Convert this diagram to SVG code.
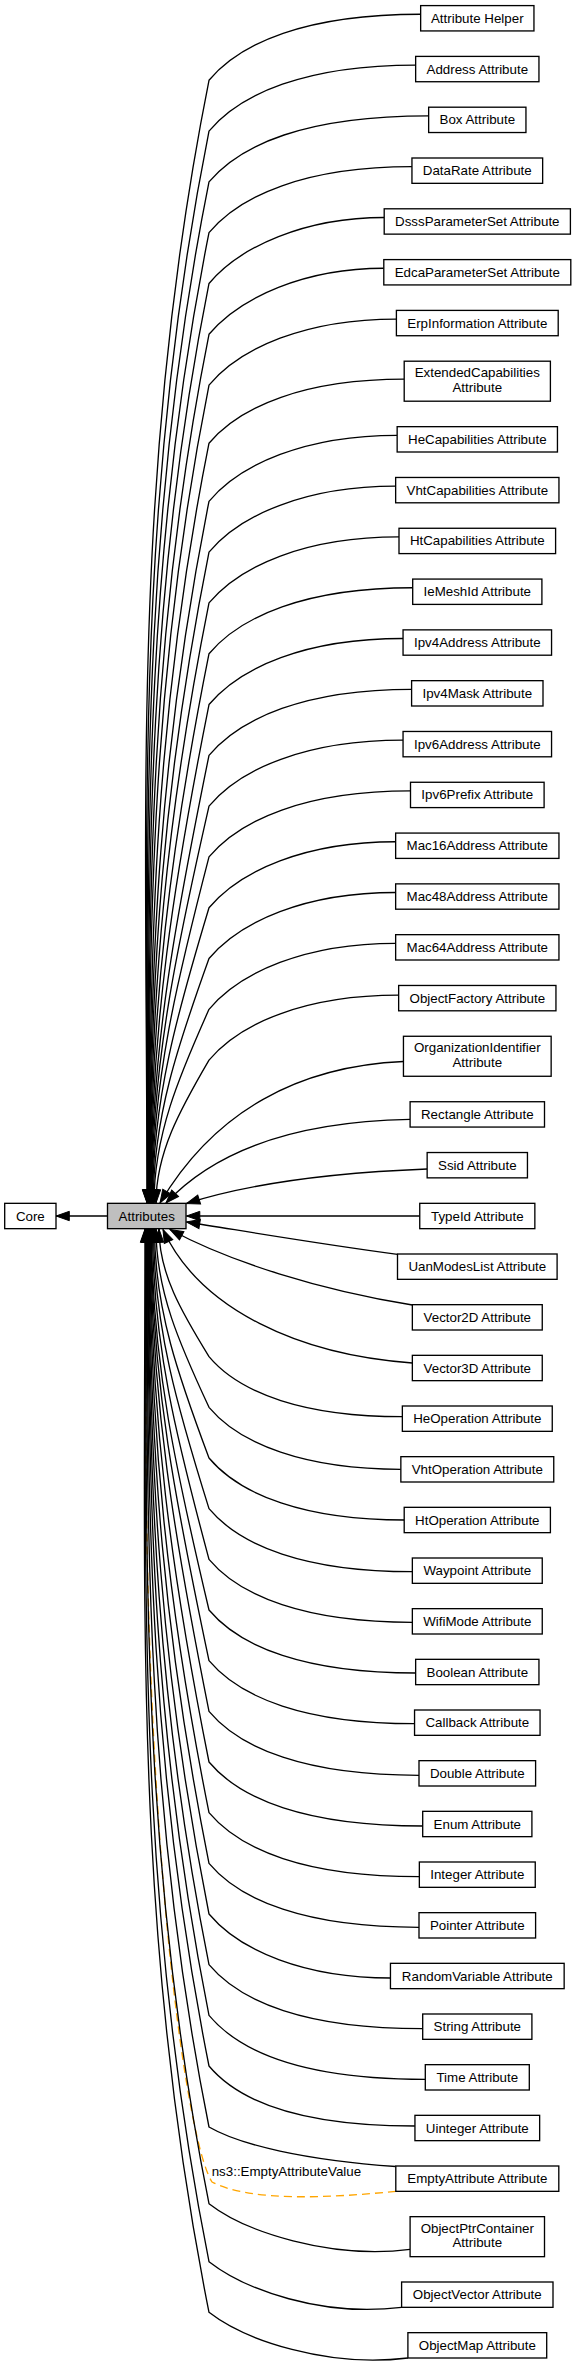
<svg xmlns="http://www.w3.org/2000/svg" width="576" height="2369" viewBox="0 0 576 2369">
<style>
.n rect{fill:#fff;stroke:#000;stroke-width:1.33}
.cur rect{fill:#bfbfbf}
text{font-family:"Liberation Sans",Arial,Helvetica,sans-serif;font-size:13.33px;fill:#000;text-anchor:middle}
.e path{fill:none;stroke:#000;stroke-width:1.33;marker-end:url(#ah)}
.e path.o{stroke:#ffa500;stroke-dasharray:8,5;marker-end:url(#ao)}
.lbl{text-anchor:start}
</style>
<defs>
<marker id="ah" markerUnits="userSpaceOnUse" markerWidth="14" markerHeight="10" viewBox="0 0 14 10" refX="13.3" refY="5" orient="auto" overflow="visible"><path d="M0,0.33 L13.3,5 L0,9.67 z" fill="#000" stroke="#000" stroke-width="1"/></marker>
<marker id="ao" markerUnits="userSpaceOnUse" markerWidth="14" markerHeight="10" viewBox="0 0 14 10" refX="13.3" refY="5" orient="auto" overflow="visible"><path d="M0,0.33 L13.3,5 L0,9.67 z" fill="#ffa500" stroke="#ffa500" stroke-width="1"/></marker>
</defs>
<rect width="576" height="2369" fill="#fff"/>
<g id="edges" class="e">
<path class="o" d="M395.8,2191.3 C330,2198 250,2202 212,2182 C185,2140 135,1800 148,1229"/>
<path d="M107.5,1216 L56,1216"/>
<path d="M420.65,14.27 C305,14.27 240,43.27 209,80.27 C130.4,473.2 147,810 147,1203"/>
<path d="M415.65,65.07 C305,65.07 240,94.07 209,131.07 C134,506.3 147.3,827.8 147.3,1203"/>
<path d="M428.65,115.87 C305,115.87 240,144.87 209,181.87 C137.5,539.3 147.6,845.6 147.6,1203"/>
<path d="M411.95,166.67 C305,166.67 240,195.67 209,232.67 C141.1,572.3 147.9,863.4 147.9,1203"/>
<path d="M384.2,217.47 C305,217.47 240,246.47 209,283.47 C144.6,605.3 148.2,881.2 148.2,1203"/>
<path d="M383.8,268.27 C305,268.27 240,297.27 209,334.27 C148.2,638.4 148.5,898.9 148.5,1203"/>
<path d="M396.4,319.07 C305,319.07 240,348.07 209,385.07 C151.7,671.4 148.8,916.7 148.8,1203"/>
<path d="M404.2,379.2 C305,379.2 240,406.2 209,443.2 C155.8,709.1 149.1,937.1 149.1,1203"/>
<path d="M397.15,435.33 C305,435.33 240,464.33 209,501.33 C159.9,746.9 149.4,957.4 149.4,1203"/>
<path d="M395.65,486.13 C305,486.13 240,515.13 209,552.13 C163.4,779.9 149.7,975.2 149.7,1203"/>
<path d="M399,536.93 C305,536.93 240,565.93 209,602.93 C167,812.9 150,993 150,1203"/>
<path d="M412.7,587.73 C305,587.73 240,616.73 209,653.73 C170.6,845.9 150.3,1010.8 150.3,1203"/>
<path d="M403.05,638.53 C305,638.53 240,667.53 209,704.53 C174.1,879 150.6,1028.5 150.6,1203"/>
<path d="M411.6,689.33 C305,689.33 240,718.33 209,755.33 C177.1,912 151,1046.3 151,1203"/>
<path d="M403.05,740.13 C305,740.13 240,769.13 209,806.13 C177.4,945 151.5,1064.1 151.5,1203"/>
<path d="M410.5,790.93 C305,790.93 240,819.93 209,856.93 C177.6,978 152,1081.9 152,1203"/>
<path d="M395.65,841.73 C305,841.73 240,870.73 209,907.73 C177.9,1011 152.5,1099.7 152.5,1203"/>
<path d="M395.65,892.53 C305,892.53 240,921.53 209,958.53 C178.3,1044.1 153.2,1117.4 153.2,1203"/>
<path d="M395.65,943.33 C305,943.33 240,972.33 209,1009.33 C178.7,1077.1 154,1135.2 154,1203"/>
<path d="M398.65,995.13 C305,995.13 240,1023.13 209,1060.13 C179.8,1110.1 156,1153 156,1203"/>
<path d="M403.45,1061.5 C300,1066 215,1110 160,1203"/>
<path d="M410.1,1119.4 C320,1121 225,1140 166,1203"/>
<path d="M427.15,1169 C350,1172 260,1180 186.5,1203.5"/>
<path d="M419.75,1216 L186.5,1216"/>
<path d="M397.5,1254.3 C320,1244 250,1232 186.5,1222"/>
<path d="M412.35,1305 C320,1290 230,1262 170,1229.5"/>
<path d="M412.35,1363 C300,1355 200,1310 163,1229.5"/>
<path d="M402.35,1416.67 C305,1416.67 240,1393.67 209,1356.67 C181.5,1312 159,1273.7 159,1229"/>
<path d="M400.85,1469.33 C305,1469.33 240,1444.33 209,1407.33 C179.9,1344.9 156,1291.4 156,1229"/>
<path d="M404.2,1520 C305,1520 240,1495 209,1458 C179,1377.8 154.5,1309.2 154.5,1229"/>
<path d="M412.35,1571.67 C305,1571.67 240,1545.67 209,1508.67 C178.5,1410.8 153.5,1326.9 153.5,1229"/>
<path d="M412.35,1622.33 C305,1622.33 240,1596.33 209,1559.33 C177.9,1443.7 152.5,1344.6 152.5,1229"/>
<path d="M415.65,1673 C305,1673 240,1647 209,1610 C177.4,1476.6 151.5,1362.4 151.5,1229"/>
<path d="M414.55,1723.67 C305,1723.67 240,1697.67 209,1660.67 C177.1,1509.6 151,1380.1 151,1229"/>
<path d="M419,1775.33 C305,1775.33 240,1748.33 209,1711.33 C175.2,1542.5 150.5,1397.8 150.5,1229"/>
<path d="M422.7,1826 C305,1826 240,1799 209,1762 C171.7,1575.4 150,1415.6 150,1229"/>
<path d="M419.35,1876.67 C305,1876.67 240,1849.67 209,1812.67 C168.1,1608.4 149.5,1433.3 149.5,1229"/>
<path d="M419,1927.33 C305,1927.33 240,1900.33 209,1863.33 C164.6,1641.3 149,1451 149,1229"/>
<path d="M390.45,1978 C305,1978 240,1951 209,1914 C161,1674.2 148.5,1468.8 148.5,1229"/>
<path d="M422.7,2028.67 C305,2028.67 240,2001.67 209,1964.67 C157.5,1707.2 148,1486.5 148,1229"/>
<path d="M425.3,2079.33 C305,2079.33 240,2052.33 209,2015.33 C154,1740.1 147.5,1504.2 147.5,1229"/>
<path d="M414.95,2126 C305,2126 240,2103 209,2066 C150.4,1773 147,1522 147,1229"/>
<path d="M395.8,2166.5 C305,2160 240,2145 209,2127 C146.1,1812.7 146.5,1543.3 146.5,1229"/>
<path d="M410.1,2249.4 C330,2259.4 245,2231.67 209,2203.67 C140.8,1862.6 146,1570.1 146,1229"/>
<path d="M401.6,2307.3 C321.6,2317.3 245,2289.67 209,2261.67 C136.7,1900.3 145.5,1590.4 145.5,1229"/>
<path d="M407.9,2358 C327.9,2368 245,2340.33 209,2312.33 C133.2,1933.1 145,1608.2 145,1229"/>
<text class="lbl" x="211.7" y="2176">ns3::EmptyAttributeValue</text>
</g>
<g id="Core" class="n"><rect x="4.7" y="1203.33" width="51.3" height="25.33"/><text x="30.35" y="1220.5">Core</text></g>
<g id="Attributes" class="n cur"><rect x="107.5" y="1203.33" width="78.5" height="25.33"/><text x="146.75" y="1220.5">Attributes</text></g>
<g id="AttributeHelper" class="n"><rect x="420.65" y="5.6" width="113.3" height="25.33"/><text x="477.3" y="22.77">Attribute Helper</text></g>
<g id="AddressAttribute" class="n"><rect x="415.65" y="56.4" width="123.3" height="25.33"/><text x="477.3" y="73.57">Address Attribute</text></g>
<g id="BoxAttribute" class="n"><rect x="428.65" y="107.2" width="97.3" height="25.33"/><text x="477.3" y="124.37">Box Attribute</text></g>
<g id="DataRateAttribute" class="n"><rect x="411.95" y="158" width="130.7" height="25.33"/><text x="477.3" y="175.17">DataRate Attribute</text></g>
<g id="DsssParameterSetAttribute" class="n"><rect x="384.2" y="208.8" width="186.2" height="25.33"/><text x="477.3" y="225.97">DsssParameterSet Attribute</text></g>
<g id="EdcaParameterSetAttribute" class="n"><rect x="383.8" y="259.6" width="187" height="25.33"/><text x="477.3" y="276.77">EdcaParameterSet Attribute</text></g>
<g id="ErpInformationAttribute" class="n"><rect x="396.4" y="310.4" width="161.8" height="25.33"/><text x="477.3" y="327.57">ErpInformation Attribute</text></g>
<g id="ExtendedCapabilitiesAttribute" class="n"><rect x="404.2" y="361.2" width="146.2" height="40"/><text x="477.3" y="377.2">ExtendedCapabilities</text><text x="477.3" y="391.87">Attribute</text></g>
<g id="HeCapabilitiesAttribute" class="n"><rect x="397.15" y="426.67" width="160.3" height="25.33"/><text x="477.3" y="443.83">HeCapabilities Attribute</text></g>
<g id="VhtCapabilitiesAttribute" class="n"><rect x="395.65" y="477.47" width="163.3" height="25.33"/><text x="477.3" y="494.63">VhtCapabilities Attribute</text></g>
<g id="HtCapabilitiesAttribute" class="n"><rect x="399" y="528.27" width="156.6" height="25.33"/><text x="477.3" y="545.43">HtCapabilities Attribute</text></g>
<g id="IeMeshIdAttribute" class="n"><rect x="412.7" y="579.07" width="129.2" height="25.33"/><text x="477.3" y="596.23">IeMeshId Attribute</text></g>
<g id="Ipv4AddressAttribute" class="n"><rect x="403.05" y="629.87" width="148.5" height="25.33"/><text x="477.3" y="647.03">Ipv4Address Attribute</text></g>
<g id="Ipv4MaskAttribute" class="n"><rect x="411.6" y="680.67" width="131.4" height="25.33"/><text x="477.3" y="697.83">Ipv4Mask Attribute</text></g>
<g id="Ipv6AddressAttribute" class="n"><rect x="403.05" y="731.47" width="148.5" height="25.33"/><text x="477.3" y="748.63">Ipv6Address Attribute</text></g>
<g id="Ipv6PrefixAttribute" class="n"><rect x="410.5" y="782.27" width="133.6" height="25.33"/><text x="477.3" y="799.43">Ipv6Prefix Attribute</text></g>
<g id="Mac16AddressAttribute" class="n"><rect x="395.65" y="833.07" width="163.3" height="25.33"/><text x="477.3" y="850.23">Mac16Address Attribute</text></g>
<g id="Mac48AddressAttribute" class="n"><rect x="395.65" y="883.87" width="163.3" height="25.33"/><text x="477.3" y="901.03">Mac48Address Attribute</text></g>
<g id="Mac64AddressAttribute" class="n"><rect x="395.65" y="934.67" width="163.3" height="25.33"/><text x="477.3" y="951.83">Mac64Address Attribute</text></g>
<g id="ObjectFactoryAttribute" class="n"><rect x="398.65" y="985.47" width="157.3" height="25.33"/><text x="477.3" y="1002.63">ObjectFactory Attribute</text></g>
<g id="OrganizationIdentifierAttribute" class="n"><rect x="403.45" y="1036.27" width="147.7" height="40"/><text x="477.3" y="1052.27">OrganizationIdentifier</text><text x="477.3" y="1066.93">Attribute</text></g>
<g id="RectangleAttribute" class="n"><rect x="410.1" y="1101.73" width="134.4" height="25.33"/><text x="477.3" y="1118.9">Rectangle Attribute</text></g>
<g id="SsidAttribute" class="n"><rect x="427.15" y="1152.53" width="100.3" height="25.33"/><text x="477.3" y="1169.7">Ssid Attribute</text></g>
<g id="TypeIdAttribute" class="n"><rect x="419.75" y="1203.33" width="115.1" height="25.33"/><text x="477.3" y="1220.5">TypeId Attribute</text></g>
<g id="UanModesListAttribute" class="n"><rect x="397.5" y="1254" width="159.6" height="25.33"/><text x="477.3" y="1271.17">UanModesList Attribute</text></g>
<g id="Vector2DAttribute" class="n"><rect x="412.35" y="1304.67" width="129.9" height="25.33"/><text x="477.3" y="1321.83">Vector2D Attribute</text></g>
<g id="Vector3DAttribute" class="n"><rect x="412.35" y="1355.33" width="129.9" height="25.33"/><text x="477.3" y="1372.5">Vector3D Attribute</text></g>
<g id="HeOperationAttribute" class="n"><rect x="402.35" y="1406" width="149.9" height="25.33"/><text x="477.3" y="1423.17">HeOperation Attribute</text></g>
<g id="VhtOperationAttribute" class="n"><rect x="400.85" y="1456.67" width="152.9" height="25.33"/><text x="477.3" y="1473.83">VhtOperation Attribute</text></g>
<g id="HtOperationAttribute" class="n"><rect x="404.2" y="1507.33" width="146.2" height="25.33"/><text x="477.3" y="1524.5">HtOperation Attribute</text></g>
<g id="WaypointAttribute" class="n"><rect x="412.35" y="1558" width="129.9" height="25.33"/><text x="477.3" y="1575.17">Waypoint Attribute</text></g>
<g id="WifiModeAttribute" class="n"><rect x="412.35" y="1608.67" width="129.9" height="25.33"/><text x="477.3" y="1625.83">WifiMode Attribute</text></g>
<g id="BooleanAttribute" class="n"><rect x="415.65" y="1659.33" width="123.3" height="25.33"/><text x="477.3" y="1676.5">Boolean Attribute</text></g>
<g id="CallbackAttribute" class="n"><rect x="414.55" y="1710" width="125.5" height="25.33"/><text x="477.3" y="1727.17">Callback Attribute</text></g>
<g id="DoubleAttribute" class="n"><rect x="419" y="1760.67" width="116.6" height="25.33"/><text x="477.3" y="1777.83">Double Attribute</text></g>
<g id="EnumAttribute" class="n"><rect x="422.7" y="1811.33" width="109.2" height="25.33"/><text x="477.3" y="1828.5">Enum Attribute</text></g>
<g id="IntegerAttribute" class="n"><rect x="419.35" y="1862" width="115.9" height="25.33"/><text x="477.3" y="1879.17">Integer Attribute</text></g>
<g id="PointerAttribute" class="n"><rect x="419" y="1912.67" width="116.6" height="25.33"/><text x="477.3" y="1929.83">Pointer Attribute</text></g>
<g id="RandomVariableAttribute" class="n"><rect x="390.45" y="1963.33" width="173.7" height="25.33"/><text x="477.3" y="1980.5">RandomVariable Attribute</text></g>
<g id="StringAttribute" class="n"><rect x="422.7" y="2014" width="109.2" height="25.33"/><text x="477.3" y="2031.17">String Attribute</text></g>
<g id="TimeAttribute" class="n"><rect x="425.3" y="2064.67" width="104" height="25.33"/><text x="477.3" y="2081.83">Time Attribute</text></g>
<g id="UintegerAttribute" class="n"><rect x="414.95" y="2115.33" width="124.7" height="25.33"/><text x="477.3" y="2132.5">Uinteger Attribute</text></g>
<g id="EmptyAttributeAttribute" class="n"><rect x="395.8" y="2166" width="163" height="25.33"/><text x="477.3" y="2183.17">EmptyAttribute Attribute</text></g>
<g id="ObjectPtrContainerAttribute" class="n"><rect x="410.1" y="2216.67" width="134.4" height="40"/><text x="477.3" y="2232.67">ObjectPtrContainer</text><text x="477.3" y="2247.33">Attribute</text></g>
<g id="ObjectVectorAttribute" class="n"><rect x="401.6" y="2282" width="151.4" height="25.33"/><text x="477.3" y="2299.17">ObjectVector Attribute</text></g>
<g id="ObjectMapAttribute" class="n"><rect x="407.9" y="2332.67" width="138.8" height="25.33"/><text x="477.3" y="2349.83">ObjectMap Attribute</text></g>
</svg>
